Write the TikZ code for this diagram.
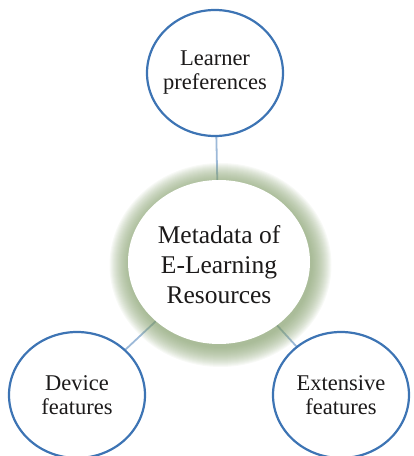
\documentclass[tikz,border=0pt]{standalone}
\usepackage{fontspec}
\setmainfont{Liberation Serif}
\usetikzlibrary{shapes.geometric}
\pgfdeclarelayer{lines}
\pgfdeclarelayer{glow}
\pgfsetlayers{lines,glow,main}
\definecolor{ringblue}{HTML}{3D74B4}
\definecolor{linkblue}{HTML}{9CB9D8}
\definecolor{glowgreen}{HTML}{86A06E}
\definecolor{inktext}{HTML}{1C1A1A}
\tikzset{
  x=1pt, y=1pt,
  topic/.style={ellipse, draw=ringblue, line width=2.2pt, fill=white,
    minimum width=136pt, minimum height=126pt, inner sep=-20pt,
    align=center, text=inktext, font=\fontsize{22.5}{24}\selectfont},
  hub/.style={ellipse, fill=white, minimum width=182pt, minimum height=164pt,
    inner sep=0pt},
  hubtext/.style={align=center, text=inktext, inner sep=0pt,
    font=\fontsize{25.5}{30}\selectfont},
  link/.style={draw=linkblue, line width=1.8pt}
}
\begin{document}
\begin{tikzpicture}
\useasboundingbox (0,0) rectangle (414,456);
% outer topics
\node[topic] (learner) at (215,383) {Learner\\preferences};
\node[topic] (device) at (77,61) {Device\\features};
\node[topic] (extensive) at (341,61) {Extensive\\features};
% central hub, its caption set a little below the centre
\node[hub] (meta) at (219,194) {};
\node[hubtext] (metatext) at ([yshift=-3pt]meta.center) {Metadata of\\E-Learning\\Resources};
% soft green halo round the hub
\begin{pgfonlayer}{glow}
  \foreach \g in {20,19,...,1}{
    \fill[glowgreen, fill opacity=0.06]
      ([xshift=1.5pt,yshift=-3pt]meta.center) ellipse ({91+\g} and {82+\g});
  }
\end{pgfonlayer}
% connectors
\begin{pgfonlayer}{lines}
  \draw[link] (learner) -- (meta);
  \draw[link] (device) -- (meta);
  \draw[link] (extensive) -- (meta);
\end{pgfonlayer}
\end{tikzpicture}
\end{document}
